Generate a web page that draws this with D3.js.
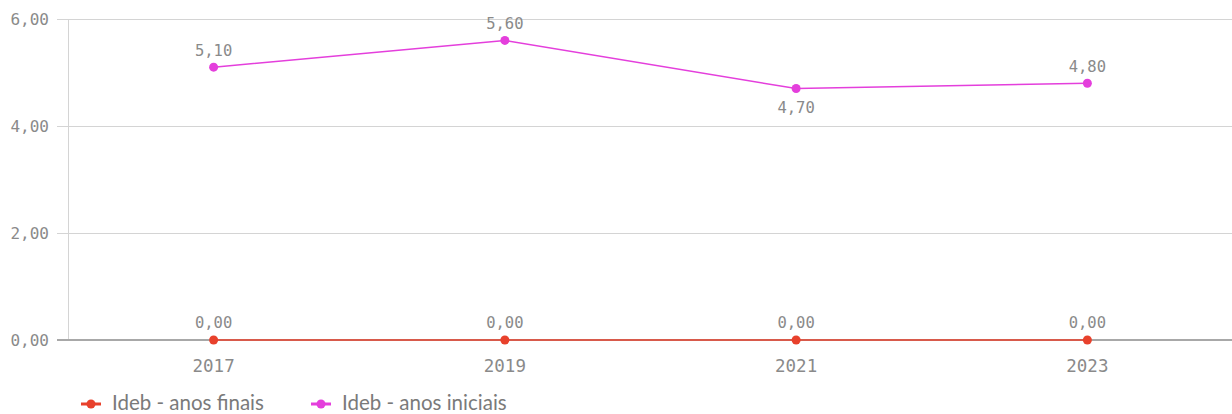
<!DOCTYPE html>
<html><head><meta charset="utf-8">
<script src="https://cdn.jsdelivr.net/npm/d3@7"></script>
<style>
html,body{margin:0;padding:0;background:#fff;}
svg{display:block;}
</style></head>
<body>
<svg id="chart" width="1232" height="414"></svg>
<script>
const categories = ["2017","2019","2021","2023"];
const anosFinais = [0, 0, 0, 0];
const anosIniciais = [5.1, 5.6, 4.7, 4.8];
const iniciaisLabelPos = ["above","above","below","above"];
const yTicks = [0, 2, 4, 6];
const seriesNames = ["Ideb - anos finais", "Ideb - anos iniciais"];
const seriesColors = ["#e8412c", "#e43fdc"];

(function(){
const svg = d3.select("#chart");
const W = 1232, H = 414;
const mLeft = 68, mTop = 19, mBottom = 340;
const fmt = v => d3.format(".2f")(v).replace(".", ",");
const numFont = "'DejaVu Sans Mono', monospace";

const x = d3.scaleBand().domain(categories).range([mLeft, 1233]);
const y = d3.scaleLinear().domain([0, 6]).range([mBottom, mTop]);

// gridlines
svg.append("g").selectAll("line").data(yTicks.filter(d => d > 0)).join("line")
  .attr("x1", 57).attr("x2", W).attr("y1", d => y(d)).attr("y2", d => y(d))
  .attr("stroke", "#d4d4d4").attr("stroke-width", 1).attr("shape-rendering","crispEdges");
// left axis line
svg.append("line").attr("x1", mLeft).attr("x2", mLeft).attr("y1", mTop).attr("y2", mBottom)
  .attr("stroke", "#d4d4d4").attr("shape-rendering","crispEdges");
// baseline
svg.append("line").attr("x1", 57).attr("x2", W).attr("y1", y(0)).attr("y2", y(0))
  .attr("stroke", "#a8a8a8").attr("stroke-width", 2);

// y labels
svg.append("g").selectAll("text").data(yTicks).join("text")
  .attr("x", 49).attr("y", d => y(d)).attr("dy", "0.35em")
  .attr("text-anchor", "end").attr("font-family", numFont).attr("font-size", 16)
  .attr("fill", "#8a8a8a").text(d => fmt(d));

// x labels
svg.append("g").selectAll("text").data(categories).join("text")
  .attr("x", d => x(d) + x.bandwidth()/2).attr("y", 366).attr("dy", "0.35em")
  .attr("text-anchor", "middle").attr("font-family", numFont).attr("font-size", 17.5)
  .attr("fill", "#8a8a8a").text(d => d);

const cx = d => x(d) + x.bandwidth()/2;
const line = d3.line().x(d => cx(d.c)).y(d => y(d.v));

function drawSeries(vals, color, pos) {
  const data = categories.map((c, i) => ({c, v: vals[i], p: pos ? pos[i] : "above"}));
  svg.append("path").datum(data).attr("d", line).attr("fill", "none")
    .attr("stroke", color).attr("stroke-width", 1.5);
  svg.append("g").selectAll("circle").data(data).join("circle")
    .attr("cx", d => cx(d.c)).attr("cy", d => y(d.v)).attr("r", 4.5).attr("fill", color);
  svg.append("g").selectAll("text").data(data).join("text")
    .attr("x", d => cx(d.c)).attr("y", d => y(d.v) + (d.p === "above" ? -17 : 19)).attr("dy", "0.35em")
    .attr("text-anchor", "middle").attr("font-family", numFont).attr("font-size", 15.5)
    .attr("fill", "#8a8a8a").text(d => fmt(d.v));
}
drawSeries(anosFinais, seriesColors[0]);
drawSeries(anosIniciais, seriesColors[1], iniciaisLabelPos);

// legend
const legX = [81, 311];
const lg = svg.append("g").selectAll("g").data(seriesNames).join("g")
  .attr("transform", (d, i) => `translate(${legX[i]},404)`);
lg.append("line").attr("x1", 0).attr("x2", 20).attr("y1", 0).attr("y2", 0)
  .attr("stroke", (d, i) => seriesColors[i]).attr("stroke-width", 3);
lg.append("circle").attr("cx", 10).attr("cy", 0).attr("r", 4.5).attr("fill", (d, i) => seriesColors[i]);
lg.append("text").attr("x", 31).attr("y", 6)
  .attr("font-family", "Lato, sans-serif").attr("font-size", 20.5)
  .attr("fill", "#7a7a7a").text(d => d);
})();
</script>
</body></html>
